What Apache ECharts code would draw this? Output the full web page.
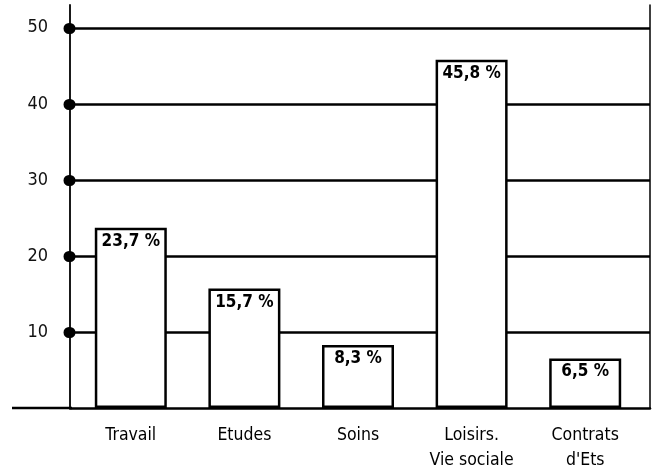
<!DOCTYPE html>
<html>
<head>
<meta charset="utf-8">
<script src="https://cdn.jsdelivr.net/npm/echarts@6/dist/echarts.min.js"></script>
<style>
html,body{margin:0;padding:0;background:#fff;}
#c{width:658px;height:473px;}
</style>
</head>
<body>
<div id="c"></div>
<script>
var categories = ['Travail', 'Etudes', 'Soins', 'Loisirs.\nVie sociale', 'Contrats\nd\'Ets'];
var values = [23.7, 15.7, 8.3, 45.8, 6.5];
var valueLabels = ['23,7 %', '15,7 %', '8,3 %', '45,8 %', '6,5 %'];
var yTicks = [10, 20, 30, 40, 50];

var FONT = '"DejaVu Sans Condensed", "Liberation Sans Narrow", "Liberation Sans", Arial, sans-serif';
var chart = echarts.init(document.getElementById('c'), null, {renderer: 'canvas'});
var yMax = 53;
var option = {
  backgroundColor: '#fff',
  animation: false,
  grid: [
    {left: 70, right: 8, top: 5, bottom: 65, containLabel: false, outerBoundsMode: 'none'},
    {left: 74, right: 16, top: 5, bottom: 65, containLabel: false, outerBoundsMode: 'none'}
  ],
  xAxis: [
    {gridIndex: 0, type: 'category', data: categories,
     axisLine: {show: true, lineStyle: {color: '#000', width: 2.5}},
     axisTick: {show: false}, axisLabel: {show: false}, splitLine: {show: false}},
    {gridIndex: 1, type: 'category', data: categories,
     axisLine: {show: false}, axisTick: {show: false},
     axisLabel: {show: true, color: '#000', fontFamily: FONT, fontSize: 17.5, margin: 15, lineHeight: 25}}
  ],
  yAxis: [
    {gridIndex: 0, type: 'value', min: 0, max: yMax, interval: 10, position: 'left',
     axisLine: {show: true, lineStyle: {color: '#000', width: 1.8}},
     axisTick: {show: true, customValues: yTicks, length: 1, inside: false,
                lineStyle: {color: '#000', width: 11, cap: 'round'}},
     axisLabel: {show: true, customValues: yTicks, color: '#111', fontFamily: FONT, fontSize: 18, margin: 22},
     splitLine: {show: true, lineStyle: {color: '#000', width: 2.5}}},
    {gridIndex: 0, type: 'value', min: 0, max: yMax, position: 'right',
     axisLine: {show: true, lineStyle: {color: '#000', width: 1.5}},
     axisTick: {show: false}, axisLabel: {show: false}, splitLine: {show: false}},
    {gridIndex: 1, type: 'value', min: 0, max: yMax, show: false, splitLine: {show: false}}
  ],
  series: [{
    type: 'bar',
    xAxisIndex: 1, yAxisIndex: 2,
    data: values,
    barWidth: 72,
    itemStyle: {color: '#fff', borderColor: '#000', borderWidth: 2.5},
    label: {
      show: true, position: 'insideTop', distance: 5,
      formatter: function (p) { return valueLabels[p.dataIndex]; },
      color: '#000', fontFamily: FONT, fontWeight: 'bold', fontSize: 17
    },
    z: 5
  }],
  graphic: [{
    type: 'line', z: 10,
    shape: {x1: 12, y1: 408, x2: 72, y2: 408},
    style: {stroke: '#000', lineWidth: 2.5}
  }]
};
chart.setOption(option);
</script>
</body>
</html>
